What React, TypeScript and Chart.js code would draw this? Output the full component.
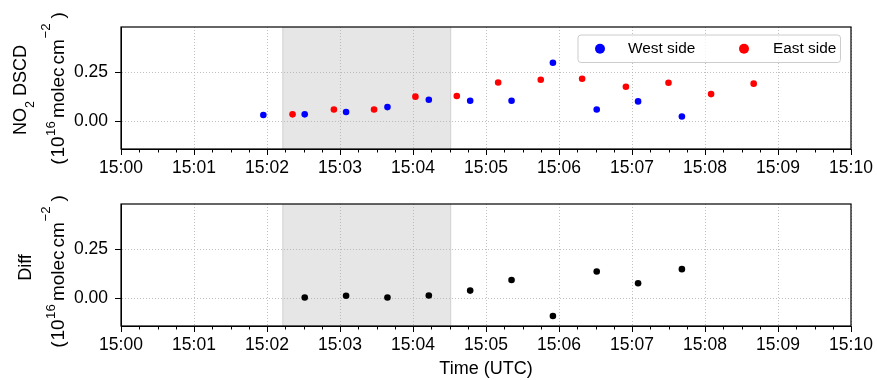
import React, { useEffect, useRef } from "react";
import { Chart, registerables } from "chart.js";

Chart.register(...registerables);

const FONT = "'Liberation Sans', Arial, Helvetica, sans-serif";

// ---------- data ----------
const westTimes = ["15:01:57", "15:02:31", "15:03:05", "15:03:39", "15:04:13", "15:04:47", "15:05:21", "15:05:55", "15:06:31", "15:07:05", "15:07:41"];
const westValues = [0.033, 0.036, 0.048, 0.073, 0.110, 0.105, 0.105, 0.298, 0.061, 0.102, 0.025];

const eastTimes = ["15:02:21", "15:02:55", "15:03:28", "15:04:02", "15:04:36", "15:05:10", "15:05:45", "15:06:19", "15:06:55", "15:07:30", "15:08:05", "15:08:40"];
const eastValues = [0.036, 0.061, 0.061, 0.126, 0.129, 0.198, 0.212, 0.217, 0.176, 0.197, 0.139, 0.192];

const diffTimes = ["15:02:31", "15:03:05", "15:03:39", "15:04:13", "15:04:47", "15:05:21", "15:05:55", "15:06:31", "15:07:05", "15:07:41"];
const diffValues = [0.005, 0.014, 0.005, 0.015, 0.040, 0.094, -0.089, 0.137, 0.077, 0.149];

const xTickLabels = ["15:00", "15:01", "15:02", "15:03", "15:04", "15:05", "15:06", "15:07", "15:08", "15:09", "15:10"];
const xMinorStepSec = 15;
const yTickValues = [0, 0.25];
const yMin = -0.14;
const yMax = 0.48;
const shadedSpan = ["15:02:13", "15:04:31"];
const seriesLabels = ["West side", "East side"];
const seriesColors = ["#0000ff", "#ff0000"];
const diffColor = "#000000";
const xTitle = "Time (UTC)";

type Run = { text: string; size: number; rise?: number; gap?: number };

const unitRuns: Run[] = [
  { text: "(", size: 19 },
  { text: "10", size: 19, gap: 1 },
  { text: "16", size: 13.3, rise: 9.5, gap: 0.5 },
  { text: "molec", size: 19, gap: 3 },
  { text: "cm", size: 19, gap: 3 },
  { text: "\u22122", size: 13.3, rise: 14.5, gap: 0.5 },
  { text: ")", size: 19, gap: 5 },
];
const topTitleLine1: Run[] = [
  { text: "NO", size: 18 },
  { text: "2", size: 12.6, rise: -8 },
  { text: " DSCD", size: 18 },
];
const bottomTitleLine1: Run[] = [{ text: "Diff", size: 18 }];

// ---------- helpers ----------
const toSec = (t: string) => {
  const p = t.split(":").map(Number);
  return (p[0] - 15) * 3600 + p[1] * 60 + (p[2] || 0);
};
const toPoints = (times: string[], vals: number[]) => times.map((t, i) => ({ x: toSec(t), y: vals[i] }));
const xTickSecs = xTickLabels.map(toSec);

function drawRuns(ctx: CanvasRenderingContext2D, runs: Run[], cx: number, cy: number) {
  ctx.save();
  ctx.translate(cx, cy);
  ctx.rotate(-Math.PI / 2);
  ctx.fillStyle = "#000";
  ctx.textBaseline = "alphabetic";
  ctx.textAlign = "left";
  const widths = runs.map((r) => {
    ctx.font = `${r.size}px ${FONT}`;
    return ctx.measureText(r.text).width + (r.gap || 0);
  });
  const total = widths.reduce((a, b) => a + b, 0);
  let x = -total / 2;
  const base = 0.36 * runs[0].size;
  runs.forEach((r, i) => {
    ctx.font = `${r.size}px ${FONT}`;
    ctx.fillText(r.text, x + (r.gap || 0), base - (r.rise || 0));
    x += widths[i];
  });
  ctx.restore();
}

function commonPlugins(titleSpec: { lines: Run[][]; xs: number[]; ys: number[] }) {
  return [
    {
      id: "shade",
      beforeDraw(chart: any) {
        const { ctx, chartArea } = chart;
        const xs = chart.scales.x;
        const a = xs.getPixelForValue(toSec(shadedSpan[0]));
        const b = xs.getPixelForValue(toSec(shadedSpan[1]));
        ctx.save();
        ctx.fillStyle = "#e6e6e6";
        ctx.fillRect(a, chartArea.top, b - a, chartArea.bottom - chartArea.top);
        ctx.strokeStyle = "rgba(200,200,200,0.8)";
        ctx.lineWidth = 1;
        ctx.beginPath();
        ctx.moveTo(a, chartArea.top);
        ctx.lineTo(a, chartArea.bottom);
        ctx.moveTo(b, chartArea.top);
        ctx.lineTo(b, chartArea.bottom);
        ctx.stroke();
        ctx.restore();
      },
    },
    {
      id: "frameAndMinor",
      afterDraw(chart: any) {
        const { ctx, chartArea } = chart;
        const xs = chart.scales.x;
        ctx.save();
        ctx.strokeStyle = "#000";
        ctx.lineWidth = 1.2;
        ctx.strokeRect(chartArea.left, chartArea.top, chartArea.right - chartArea.left, chartArea.bottom - chartArea.top);
        ctx.lineWidth = 1;
        ctx.beginPath();
        for (let s = xTickSecs[0]; s <= xTickSecs[xTickSecs.length - 1]; s += xMinorStepSec) {
          if (s % 60 === 0) continue;
          const px = Math.round(xs.getPixelForValue(s)) + 0.5;
          ctx.moveTo(px, chartArea.bottom);
          ctx.lineTo(px, chartArea.bottom + 3.5);
        }
        ctx.stroke();
        titleSpec.lines.forEach((runs, i) => drawRuns(ctx, runs, titleSpec.xs[i], titleSpec.ys[i]));
        ctx.restore();
      },
    },
  ];
}

const legendPlugin = {
  id: "insideLegend",
  afterDatasetsDraw(chart: any) {
    const { ctx, chartArea } = chart;
    const right = chartArea.right - 10.5;
    const top = chartArea.top + 8;
    const w = 262.5;
    const h = 27.5;
    const left = right - w;
    ctx.save();
    ctx.fillStyle = "rgba(255,255,255,0.8)";
    ctx.strokeStyle = "#cccccc";
    ctx.lineWidth = 1;
    ctx.beginPath();
    ctx.roundRect(left, top, w, h, 3);
    ctx.fill();
    ctx.stroke();
    const cy = top + h / 2;
    const markerX = [left + 22, left + 166];
    const textX = [left + 50, left + 195];
    ctx.font = `15.4px ${FONT}`;
    ctx.textBaseline = "middle";
    ctx.textAlign = "left";
    chart.data.datasets.forEach((ds: any, i: number) => {
      ctx.fillStyle = ds.backgroundColor;
      ctx.beginPath();
      ctx.arc(markerX[i], cy, 5, 0, Math.PI * 2);
      ctx.fill();
      ctx.fillStyle = "#000";
      ctx.fillText(ds.label, textX[i], cy);
    });
    ctx.restore();
  },
};

function axisOptions(xHeight: number, withTitle: boolean) {
  const gridBase = {
    color: "#b0b0b0",
    lineWidth: 0.8,
    tickColor: "#000",
    tickLength: 6,
    tickWidth: 1,
    tickBorderDash: [],
  };
  return {
    x: {
      type: "linear",
      min: xTickSecs[0],
      max: xTickSecs[xTickSecs.length - 1],
      afterBuildTicks: (s: any) => {
        s.ticks = xTickSecs.map((v) => ({ value: v }));
      },
      afterFit: (s: any) => {
        s.height = xHeight;
      },
      ticks: {
        autoSkip: false,
        maxRotation: 0,
        padding: 3,
        color: "#000",
        font: { family: FONT, size: 17.5 },
        callback: (_v: any, i: number) => xTickLabels[i],
      },
      grid: gridBase,
      border: { display: true, color: "#000", width: 1, dash: [1, 2] },
      title: withTitle
        ? { display: true, text: xTitle, color: "#000", font: { family: FONT, size: 18 }, padding: { top: 0, bottom: 0 } }
        : { display: false },
    },
    y: {
      type: "linear",
      min: yMin,
      max: yMax,
      afterBuildTicks: (s: any) => {
        s.ticks = yTickValues.map((v) => ({ value: v }));
      },
      afterFit: (s: any) => {
        s.width = 121;
      },
      ticks: {
        padding: 7,
        color: "#000",
        font: { family: FONT, size: 17.5 },
        callback: (v: any) => Number(v).toFixed(2),
      },
      grid: gridBase,
      border: { display: true, color: "#000", width: 1, dash: [1, 2] },
    },
  };
}

export default function App() {
  const topRef = useRef<HTMLCanvasElement | null>(null);
  const botRef = useRef<HTMLCanvasElement | null>(null);

  useEffect(() => {
    const top = new Chart(topRef.current as HTMLCanvasElement, {
      type: "scatter",
      data: {
        datasets: [
          {
            label: seriesLabels[0],
            data: toPoints(westTimes, westValues),
            backgroundColor: seriesColors[0],
            borderWidth: 0,
            pointRadius: 3.3,
          },
          {
            label: seriesLabels[1],
            data: toPoints(eastTimes, eastValues),
            backgroundColor: seriesColors[1],
            borderWidth: 0,
            pointRadius: 3.3,
          },
        ],
      },
      options: {
        responsive: false,
        animation: false,
        devicePixelRatio: 1,
        layout: { padding: { left: 0, right: 26, top: 27, bottom: 0 } },
        plugins: { legend: { display: false }, tooltip: { enabled: false } },
        scales: axisOptions(36, false) as any,
      },
      plugins: [
        ...commonPlugins({ lines: [topTitleLine1, unitRuns], xs: [20, 57.5], ys: [90, 88.5] }),
        legendPlugin,
      ] as any,
    });

    const bottom = new Chart(botRef.current as HTMLCanvasElement, {
      type: "scatter",
      data: {
        datasets: [
          {
            label: "Diff",
            data: toPoints(diffTimes, diffValues),
            backgroundColor: diffColor,
            borderWidth: 0,
            pointRadius: 3.3,
          },
        ],
      },
      options: {
        responsive: false,
        animation: false,
        devicePixelRatio: 1,
        layout: { padding: { left: 0, right: 26, top: 19, bottom: 0 } },
        plugins: { legend: { display: false }, tooltip: { enabled: false } },
        scales: axisOptions(54, true) as any,
      },
      plugins: [...commonPlugins({ lines: [bottomTitleLine1, unitRuns], xs: [24.5, 57.5], ys: [82.5, 86.5] })] as any,
    });

    return () => {
      top.destroy();
      bottom.destroy();
    };
  }, []);

  return (
    <div style={{ position: "absolute", left: 0, top: 0, width: 877, height: 380, background: "#fff" }}>
      <canvas ref={topRef} width={877} height={185} style={{ position: "absolute", left: 0, top: 0, display: "block" }} />
      <canvas ref={botRef} width={877} height={195} style={{ position: "absolute", left: 0, top: 185, display: "block" }} />
    </div>
  );
}
